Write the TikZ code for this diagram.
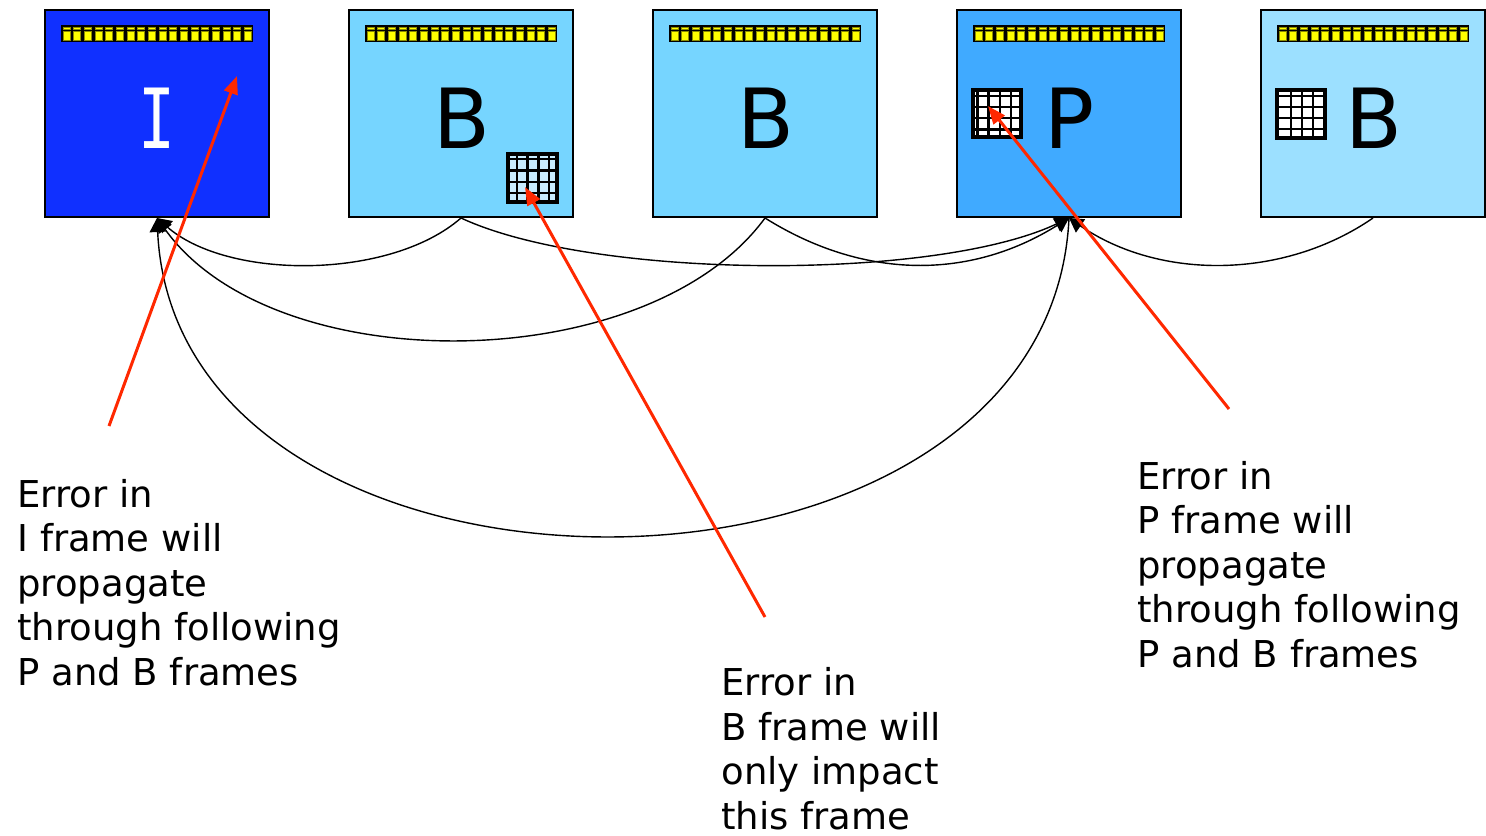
\documentclass[tikz,border=0pt]{standalone}
\usepackage{fontspec}
\usepackage{graphicx}
\setmainfont{DejaVu Sans}
\newfontfamily\monofam{DejaVu Sans Mono}
\usetikzlibrary{arrows.meta}
\definecolor{iblue}{RGB}{16,48,255}
\definecolor{bblue}{RGB}{118,213,255}
\definecolor{pblue}{RGB}{64,170,255}
\definecolor{lblue}{RGB}{156,224,255}
\definecolor{cellblue}{RGB}{200,236,255}
\definecolor{errred}{RGB}{255,40,0}
\definecolor{barcell}{RGB}{255,255,0}

% film strip bar at the top of a frame, centred on x = #1
\newcommand\filmbar[1]{%
  \fill[black] ({#1-96},25) rectangle ({#1+96},42);
  \foreach \k in {0,...,17}{%
    \fill[barcell,draw=barcell!55!black,line width=0.3pt]
      ({#1-96+\k*10.667+2},27) rectangle ++(7,2.5);
    \fill[barcell,draw=barcell!55!black,line width=0.3pt]
      ({#1-96+\k*10.667+2},31) rectangle ++(7,9);
  }%
}
% macroblock grid: corners (#1,#2)-(#3,#4), inner column lines #5,
% inner row lines #6, fill #7
\newcommand\meshgrid[7]{%
  \fill[#7] (#1,#2) rectangle (#3,#4);
  \foreach \u in {#5}{\draw[line width=1.1pt] (\u,#2) -- (\u,#4);}
  \foreach \v in {#6}{\draw[line width=1.1pt] (#1,\v) -- (#3,\v);}
  \draw[line width=1.6pt] (#1,#2) rectangle (#3,#4);
}

\begin{document}
\begin{tikzpicture}[x=0.5pt,y=-0.5pt,
  frame/.style={draw=black,line width=1pt,minimum width=112pt,
    minimum height=103.5pt,inner sep=0pt},
  letter/.style={inner sep=0pt,font=\fontsize{41.5}{41.5}\selectfont},
  link/.style={line width=0.7pt,-{Triangle[length=7pt,width=8pt]}},
  hit/.style={draw=errred,line width=1.5pt,-{Triangle[length=9pt,width=7pt]}},
  note/.style={anchor=base west,align=left,inner sep=0pt,
    font=\fontsize{18.5}{22.25}\selectfont}]
\useasboundingbox (0,0) rectangle (1486,835);

% frames
\node[frame,fill=iblue] (f1) at (157,113.5) {};
\node[frame,fill=bblue] (f2) at (461,113.5) {};
\node[frame,fill=bblue] (f3) at (765,113.5) {};
\node[frame,fill=pblue] (f4) at (1069,113.5) {};
\node[frame,fill=lblue] (f5) at (1373,113.5) {};

\filmbar{157}
\filmbar{461}
\filmbar{765}
\filmbar{1069}
\filmbar{1373}

% frame type letters
\node[letter,text=white] (l1) at (157,118) {\monofam\scalebox{0.74}[1]{I}};
\node[letter] (l2) at (462,118) {B};
\node[letter] (l3) at (766,118) {B};
\node[letter] (l4) at (1070,118) {P};
\node[letter] (l5) at (1374,118) {B};

% damaged macroblocks
\meshgrid{508}{154}{557}{202}{517,527.5,538.5,549}{159,170.5,182,193}{cellblue}
\meshgrid{973}{90}{1021}{137}{977.5,988.5,1000,1011}{96,107,118,129.5}{white}
\meshgrid{1277}{90}{1325}{138}{1291,1302,1313}{96,107,118,129}{white}

% prediction references
\draw[link] (f2.south) .. controls (390,280) and (228,280) .. (f1.south);
\draw[link] (f3.south) .. controls (648,378) and (274,382) .. (f1.south);
\draw[link] (f4.south) .. controls (1049,641) and (177,641) .. (f1.south);
\draw[link] (f2.south) .. controls (594,280) and (936,281) .. (f4.south);
\draw[link] (f3.south) .. controls (864,280) and (970,280) .. (f4.south);
\draw[link] (f5.south) .. controls (1283,280) and (1159,280) .. (f4.south);

% error pointers
\coordinate (s1) at (109,426);
\coordinate (t1) at (237,76);
\coordinate (s2) at (765,617);
\coordinate (t2) at (525,187);
\coordinate (s3) at (1229,409);
\coordinate (t3) at (988,106);
\draw[hit] (s1) -- (t1);
\draw[hit] (s2) -- (t2);
\draw[hit] (s3) -- (t3);

% notes (anchored on the baseline of the last line)
\node[note] (n1) at (17,685) {Error in\\I frame will\\propagate\\through following\\P and B frames};
\node[note] (n2) at (721,829) {Error in\\B frame will\\only impact\\this frame};
\node[note] (n3) at (1137,667) {Error in\\P frame will\\propagate\\through following\\P and B frames};
\end{tikzpicture}
\end{document}
